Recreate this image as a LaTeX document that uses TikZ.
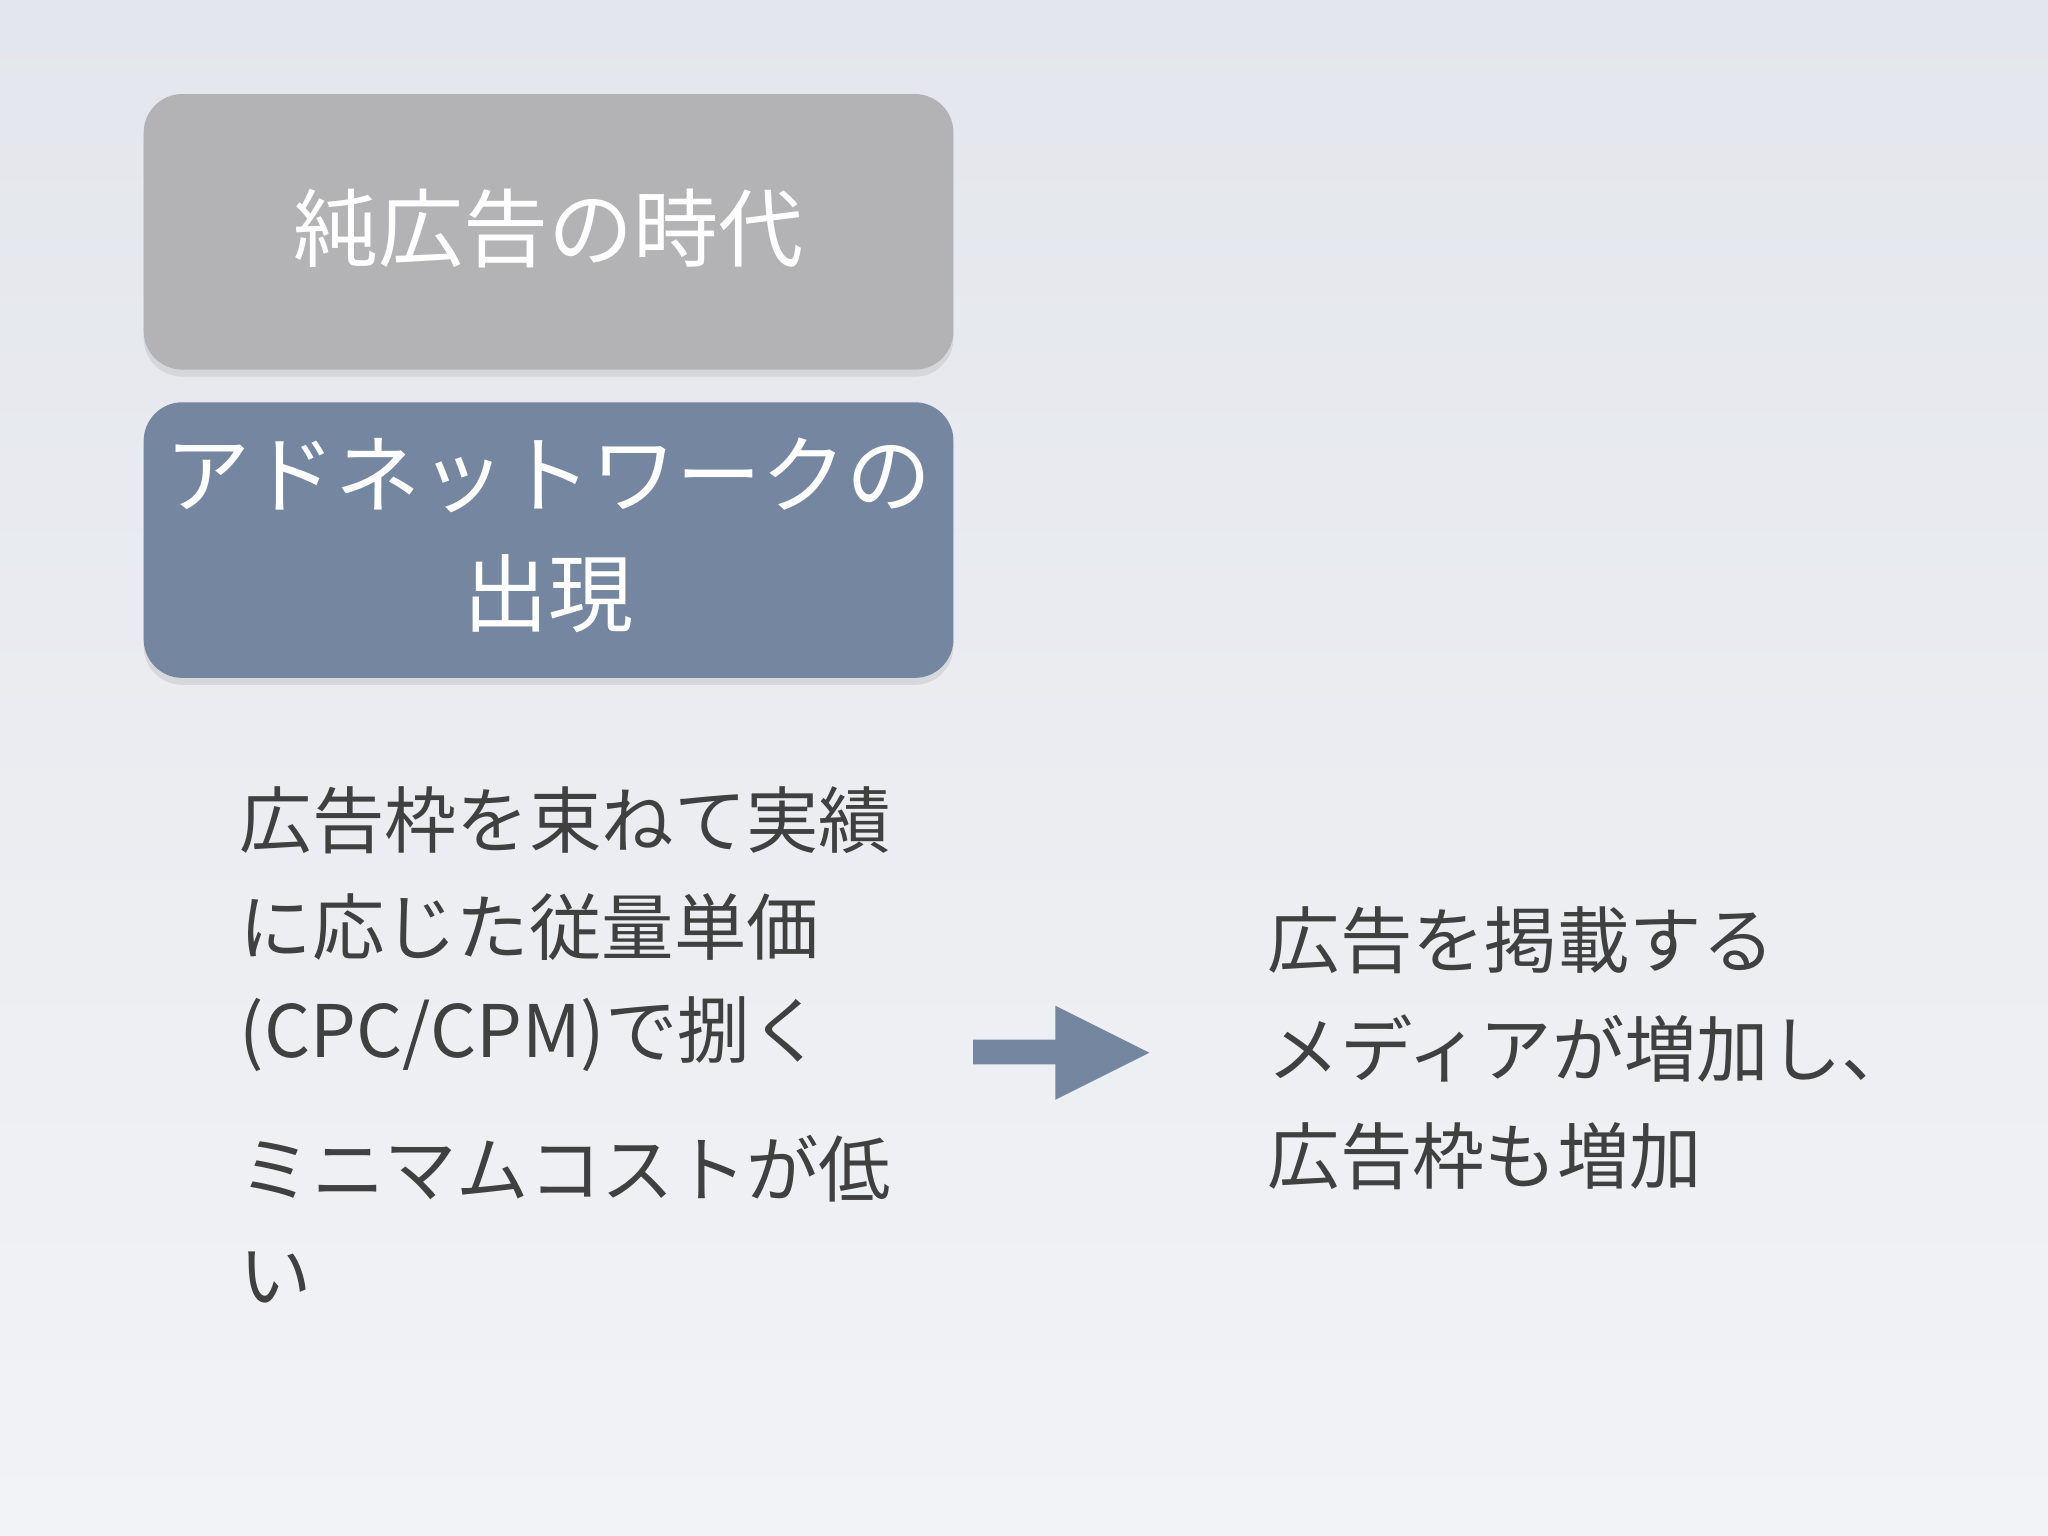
\documentclass[tikz,border=0pt]{standalone}
\usepackage{fontspec}
\setmainfont{Noto Sans CJK JP}
\usetikzlibrary{shadows}
\definecolor{bgA}{HTML}{E3E6EC}
\definecolor{bgB}{HTML}{F2F3F6}
\definecolor{boxgray}{HTML}{B3B3B5}
\definecolor{boxblue}{HTML}{7587A0}
\definecolor{txt}{HTML}{404040}
\tikzset{
  hbox/.style={rounded corners=11pt, drop shadow={shadow xshift=0pt,shadow yshift=-2pt,opacity=0.18}},
  htext/.style={text=white, font=\fontsize{24.2}{34}\selectfont, align=center},
  body/.style={text=txt, font=\fontsize{20.6}{24}\selectfont, anchor=west, inner sep=0pt}
}
\begin{document}
\begin{tikzpicture}[x=0.013061cm,y=-0.013061cm]
\shade[top color=bgA,bottom color=bgB] (0,0) rectangle (1568,1176);
\useasboundingbox (0,0) rectangle (1568,1176);
\filldraw[hbox, fill=boxgray, draw=none] (110,72) rectangle (730,283);
\node[htext] (t1) at (420,175) {純広告の時代};
\filldraw[hbox, fill=boxblue, draw=none] (110,308) rectangle (730,519);
\node[htext] (t2) at (420,410) {アドネットワークの\\出現};
\node[body] (l1) at (183,628) {広告枠を束ねて実績};
\node[body] (l2) at (183,710) {に応じた従量単価};
\node[body] (l3) at (183,792) {(CPC/CPM)で捌く};
\node[body] (l4) at (183,895) {ミニマムコストが低};
\node[body] (l5) at (183,978) {い};
\node[body] (r1) at (970,720) {広告を掲載する};
\node[body] (r2) at (970,803) {メディアが増加し、};
\node[body] (r3) at (970,885) {広告枠も増加};
\fill[boxblue] (745,796) -- (808,796) -- (808,770) -- (880,806) -- (808,842) -- (808,815) -- (745,815) -- cycle;
\end{tikzpicture}
\end{document}
